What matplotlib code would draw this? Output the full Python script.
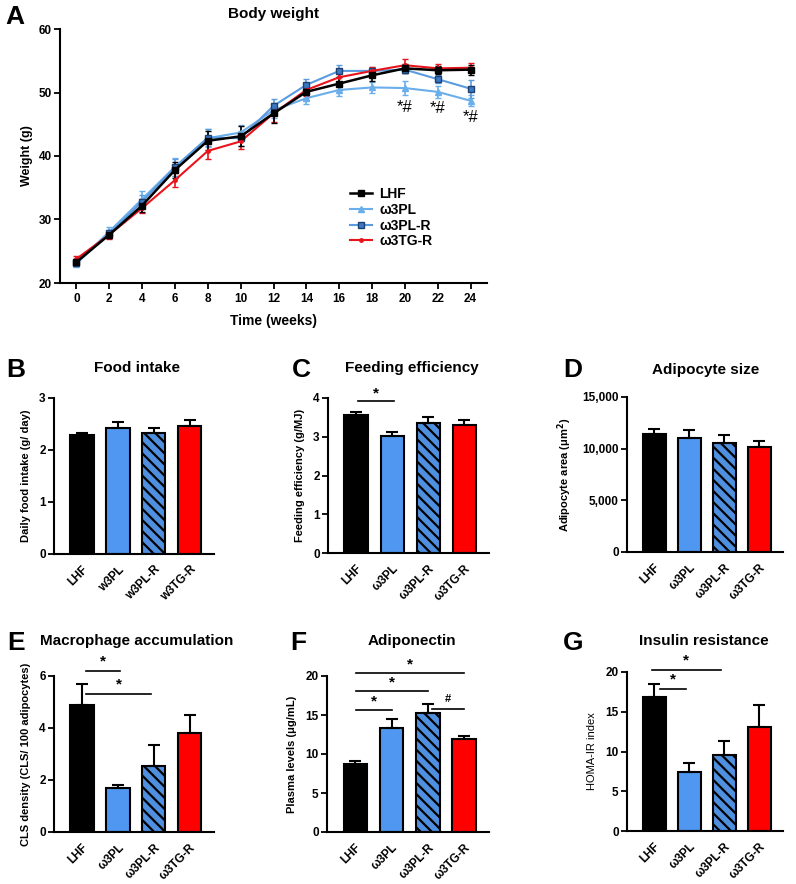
import numpy as np
import matplotlib
matplotlib.use("Agg")
import matplotlib.pyplot as plt
from matplotlib.lines import Line2D

plt.rcParams['font.family'] = ['Liberation Sans', 'DejaVu Sans']
plt.rcParams['font.weight'] = 'bold'
plt.rcParams['axes.labelweight'] = 'bold'
plt.rcParams['hatch.linewidth'] = 1.6

# ---- data ----
weeks = [0, 2, 4, 6, 8, 10, 12, 14, 16, 18, 20, 22, 24]
lhf_w = [23.3, 27.6, 32.2, 37.8, 42.4, 43.1, 46.7, 50.1, 51.4, 52.7, 53.8, 53.5, 53.6]
lhf_e = [0.5, 0.5, 1.0, 1.3, 1.5, 1.6, 1.5, 1.3, 1.0, 0.9, 0.7, 0.6, 0.8]
pl_w = [23.1, 28.1, 33.2, 38.3, 42.8, 43.7, 47.2, 49.1, 50.4, 50.8, 50.7, 50.1, 48.7]
pl_e = [0.6, 0.7, 1.3, 1.4, 1.4, 1.2, 1.2, 0.9, 0.9, 0.9, 1.1, 0.9, 0.9]
plr_w = [23.1, 27.8, 32.8, 38.2, 42.9, 42.8, 47.9, 51.2, 53.4, 53.4, 53.6, 52.1, 50.6]
plr_e = [0.5, 0.6, 1.0, 1.3, 1.3, 1.2, 1.1, 1.0, 1.0, 0.6, 0.6, 0.6, 1.4]
tgr_w = [23.8, 27.6, 31.8, 36.2, 40.8, 42.3, 46.7, 50.4, 52.4, 53.4, 54.3, 53.8, 53.9]
tgr_e = [0.5, 0.6, 0.8, 1.1, 1.2, 1.2, 1.4, 1.0, 0.9, 0.6, 0.9, 0.7, 0.7]
sig_weeks = [20, 22, 24]
sig_y = [47.7, 47.5, 46.0]

groups_b = ["LHF", "w3PL", "w3PL-R", "w3TG-R"]
groups = ["LHF", "ω3PL", "ω3PL-R", "ω3TG-R"]

food = [2.28, 2.43, 2.33, 2.46]
food_e = [0.05, 0.10, 0.09, 0.11]
feff = [3.56, 3.02, 3.36, 3.31]
feff_e = [0.09, 0.11, 0.14, 0.12]
adip = [11390, 11030, 10580, 10160]
adip_e = [550, 740, 740, 580]
cls = [4.87, 1.68, 2.55, 3.82]
cls_e = [0.83, 0.14, 0.78, 0.69]
adipo = [8.76, 13.38, 15.3, 11.88]
adipo_e = [0.34, 1.15, 1.15, 0.42]
homa = [16.8, 7.44, 9.62, 13.07]
homa_e = [1.7, 1.16, 1.68, 2.73]

bar_colors = ["black", "#4F97F0", "#4F8FE0", "#FF0000"]

fig = plt.figure(figsize=(7.96, 8.84), dpi=100)
W, H = 796.0, 884.0


def box(l, r, t, b):
    return [l / W, 1 - b / H, (r - l) / W, (b - t) / H]


def style(ax):
    ax.spines['top'].set_visible(False)
    ax.spines['right'].set_visible(False)
    ax.spines['left'].set_linewidth(1.5)
    ax.spines['bottom'].set_linewidth(1.5)
    ax.tick_params(axis='y', length=4, width=1.3, labelsize=8.5, pad=2)


# ---- A: body weight ----
ax = fig.add_axes(box(60, 487, 29, 283))
style(ax)
ax.errorbar(weeks, pl_w, yerr=pl_e, color="#6AAEEA", lw=1.5, marker='^', ms=4,
            capsize=2.5, elinewidth=1.2)
ax.errorbar(weeks, plr_w, yerr=plr_e, color="#5B9BDF", lw=1.5, marker='s', ms=4.5,
            mfc="#3B78C3", mec="#1F3F6F", capsize=2.5, elinewidth=1.2)
ax.errorbar(weeks, tgr_w, yerr=tgr_e, color="#E8141C", lw=1.5, marker='o', ms=2.5,
            capsize=2.5, elinewidth=1.2)
ax.errorbar(weeks, lhf_w, yerr=lhf_e, color="black", lw=1.8, marker='s', ms=4.5,
            capsize=2.5, elinewidth=1.2)
for wk, yy in zip(sig_weeks, sig_y):
    ax.text(wk, yy, "*#", ha='center', va='center', fontsize=12, fontweight='normal')
ax.set_xlim(-1, 25)
ax.set_ylim(20, 60)
ax.set_xticks(weeks)
ax.set_yticks([20, 30, 40, 50, 60])
ax.tick_params(axis='x', length=4, width=1.3, labelsize=8.5, pad=3)
ax.set_xlabel("Time (weeks)", fontsize=10, labelpad=7)
ax.set_ylabel("Weight (g)", fontsize=9)
handles = [
    Line2D([], [], color="black", lw=1.8, marker='s', ms=4.5),
    Line2D([], [], color="#6AAEEA", lw=1.5, marker='^', ms=4),
    Line2D([], [], color="#5B9BDF", lw=1.5, marker='s', ms=4.5, mfc="#3B78C3", mec="#1F3F6F"),
    Line2D([], [], color="#E8141C", lw=1.5, marker='o', ms=2.5),
]
ax.legend(handles, ["LHF", "ω3PL", "ω3PL-R", "ω3TG-R"], frameon=False, fontsize=10,
          loc='upper left', bbox_to_anchor=(0.66, 0.41), handlelength=1.6,
          handletextpad=0.5, labelspacing=0.12, borderpad=0.1)
fig.text(273 / W, 1 - 14 / H, "Body weight", ha='center', va='center', fontsize=11)
fig.text(15 / W, 1 - 17 / H, "A", ha='center', va='center', fontsize=19)


def bar_panel(box_px, vals, errs, labels, ylim, yticks, ylabel, title, title_xy,
              letter, letter_xy, ylabel_weight='bold', yticklabels=None):
    ax = fig.add_axes(box(*box_px))
    style(ax)
    x = np.arange(len(vals))
    bars = ax.bar(x, vals, width=0.65, color=bar_colors, edgecolor='black', linewidth=1.5)
    bars[2].set_hatch('\\\\\\')
    ax.errorbar(x, vals, yerr=[np.zeros(len(vals)), errs], fmt='none', ecolor='black',
                elinewidth=1.5, capsize=4.5, capthick=1.5)
    ax.set_xlim(-0.78, 3.68)
    ax.set_ylim(*ylim)
    ax.set_yticks(yticks)
    if yticklabels is not None:
        ax.set_yticklabels(yticklabels)
    ax.set_xticks(x)
    ax.set_xticklabels(labels, rotation=45, ha='right', rotation_mode='anchor', fontsize=8.5)
    ax.tick_params(axis='x', length=0, pad=7)
    ax.set_ylabel(ylabel, fontsize=8, fontweight=ylabel_weight, labelpad=6)
    fig.text(title_xy[0] / W, 1 - title_xy[1] / H, title, ha='center', va='center', fontsize=11)
    fig.text(letter_xy[0] / W, 1 - letter_xy[1] / H, letter, ha='center', va='center', fontsize=19)
    return ax


def sig(ax, x0, x1, y, ystar, mark="*", fs=11):
    ax.plot([x0, x1], [y, y], color='black', lw=1.2, clip_on=False)
    ax.text((x0 + x1) / 2, ystar, mark, ha='center', va='center', fontsize=fs, clip_on=False)


# ---- B ----
bar_panel((54, 214, 398, 554), food, food_e, groups_b, (0, 3), [0, 1, 2, 3],
          "Daily food intake (g/ day)", "Food intake", (137, 368), "B", (16, 370))

# ---- C ----
ax = bar_panel((328, 489, 398, 553), feff, feff_e, groups, (0, 4), [0, 1, 2, 3, 4],
               "Feeding efficiency (g/MJ)", "Feeding efficiency", (412, 368), "C", (301, 370))
sig(ax, 0.05, 1.05, 3.93, 4.12)

# ---- D ----
bar_panel((627, 783, 397, 552), adip, adip_e, groups, (0, 15000), [0, 5000, 10000, 15000],
          "Adipocyte area (μm$^2$)", "Adipocyte size", (706, 370), "D", (573, 370),
          yticklabels=["0", "5,000", "10,000", "15,000"])

# ---- E ----
ax = bar_panel((54, 214, 676, 832), cls, cls_e, groups, (0, 6), [0, 2, 4, 6],
               "CLS density (CLS/ 100 adipocytes)", "Macrophage accumulation", (137, 641),
               "E", (16, 643))
sig(ax, 0.12, 1.07, 6.19, 6.55)
sig(ax, 0.12, 1.92, 5.32, 5.68)

# ---- F ----
ax = bar_panel((327, 489, 676, 832), adipo, adipo_e, groups, (0, 20), [0, 5, 10, 15, 20],
               "Plasma levels (μg/mL)", "Adiponectin", (412, 641), "F", (298, 643))
sig(ax, 0.03, 3.0, 20.38, 21.5)
sig(ax, 0.03, 2.0, 18.03, 19.15)
sig(ax, 0.03, 1.0, 15.6, 16.75)
sig(ax, 2.1, 3.0, 15.8, 17.0, mark="#", fs=8)

# ---- G ----
ax = bar_panel((627, 783, 672, 831), homa, homa_e, groups, (0, 20), [0, 5, 10, 15, 20],
               "HOMA-IR index", "Insulin resistance", (704, 641), "G", (573, 643),
               ylabel_weight='normal')
sig(ax, -0.07, 1.9, 20.3, 21.5)
sig(ax, 0.15, 0.9, 17.86, 19.05)

fig.savefig("out.png", dpi=100)
